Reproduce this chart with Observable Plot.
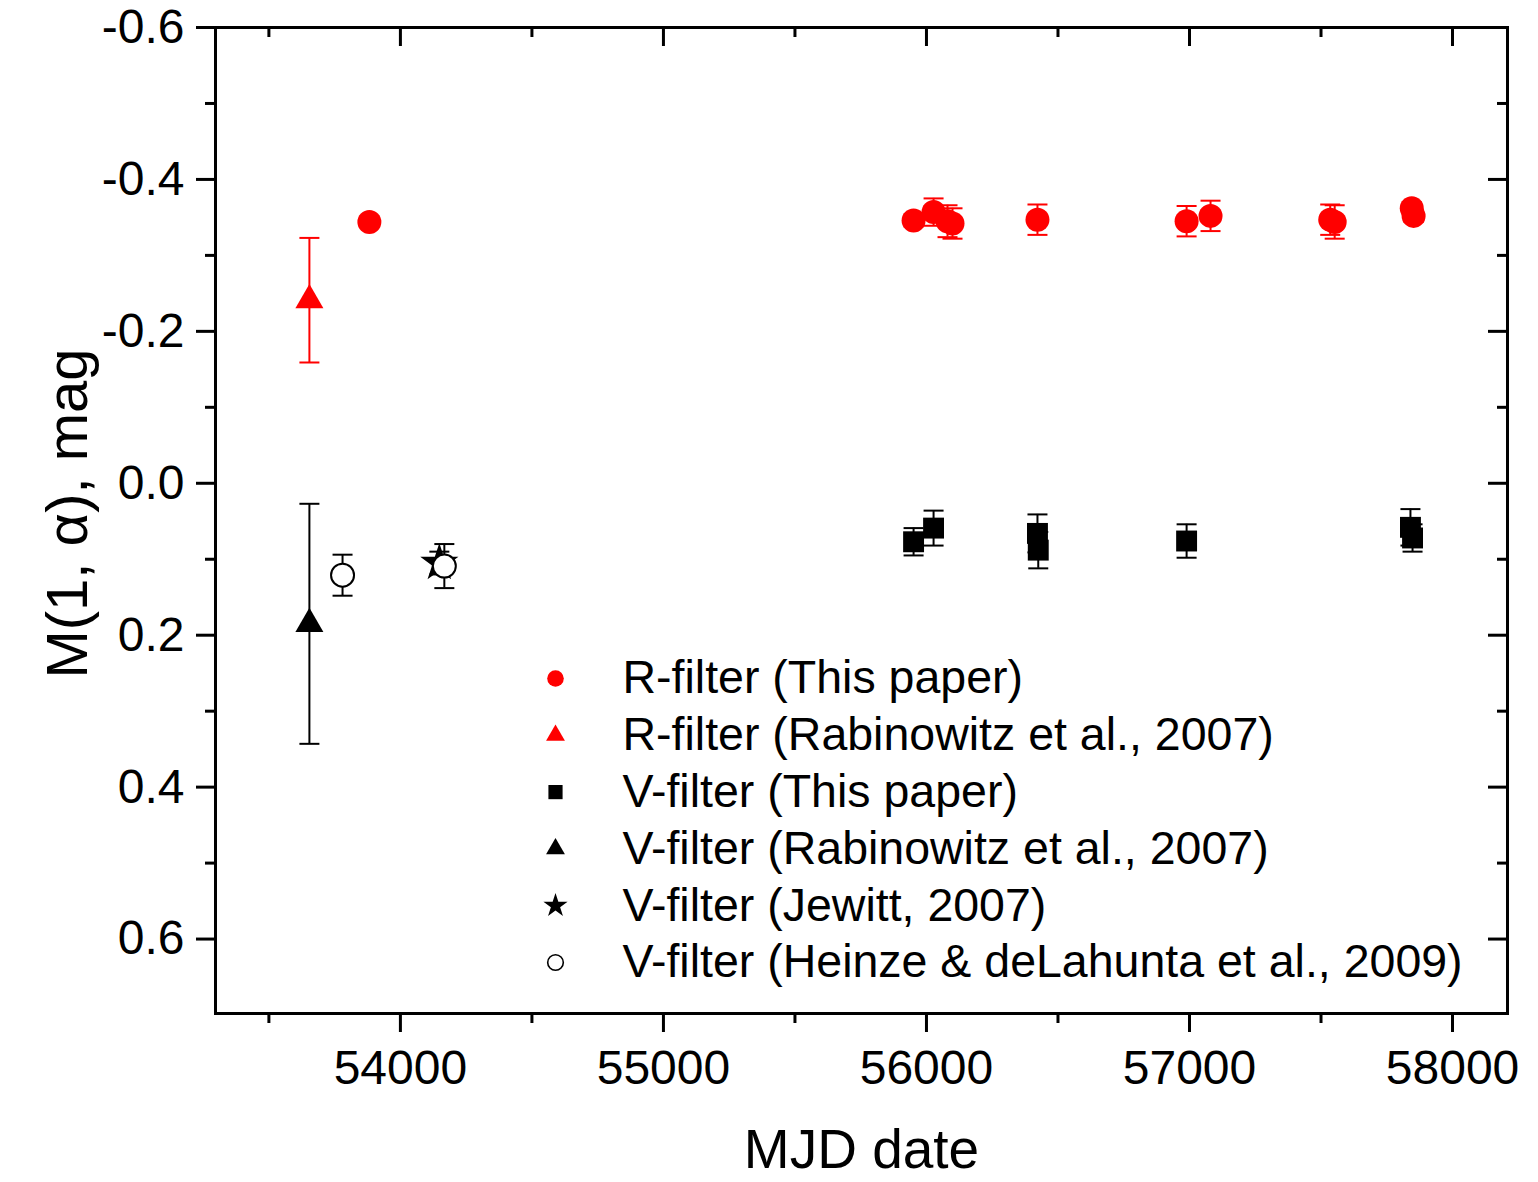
<!DOCTYPE html>
<html><head><meta charset="utf-8">
<script src="https://cdn.jsdelivr.net/npm/d3@7"></script>
<script src="https://cdn.jsdelivr.net/npm/@observablehq/plot@0.6"></script>
<style>body{margin:0;background:#fff} svg{display:block}</style>
</head><body><div id="chart"></div>
<script>
// ---- Data ----
const rThisMJD = [53882, 55951, 56027, 56080, 56099, 56422, 56989, 57080, 57535, 57552, 57845, 57852];
const rThisM   = [-0.344, -0.346, -0.357, -0.345, -0.342, -0.347, -0.345, -0.352, -0.347, -0.344, -0.362, -0.352];
const rThisErr = [0.005, 0.008, 0.018, 0.021, 0.020, 0.020, 0.020, 0.020, 0.020, 0.022, 0.008, 0.008];

const rRabMJD = [53654];
const rRabM   = [-0.241];
const rRabErr = [0.082];

const vThisMJD = [55951, 56027, 56422, 56425, 56989, 57840, 57848];
const vThisM   = [0.077, 0.059, 0.066, 0.088, 0.076, 0.058, 0.072];
const vThisErr = [0.018, 0.023, 0.025, 0.024, 0.022, 0.024, 0.018];

const vRabMJD = [53654];
const vRabM   = [0.185];
const vRabErr = [0.158];

const vJewMJD = [54148];
const vJewM   = [0.105];
const vJewErr = [0.015];

const vHeiMJD = [53780, 54167];
const vHeiM   = [0.121, 0.109];
const vHeiErr = [0.027, 0.029];

const xMajorTicks = [54000, 55000, 56000, 57000, 58000];
const xMinorTicks = [53500, 54500, 55500, 56500, 57500];
const yMajorTicks = [-0.6, -0.4, -0.2, 0.0, 0.2, 0.4, 0.6];
const yMinorTicks = [-0.5, -0.3, -0.1, 0.1, 0.3, 0.5];

const legendLabels = [
  "R-filter (This paper)",
  "R-filter (Rabinowitz et al., 2007)",
  "V-filter (This paper)",
  "V-filter (Rabinowitz et al., 2007)",
  "V-filter (Jewitt, 2007)",
  "V-filter (Heinze & deLahunta et al., 2009)"
];
const xLabel = "MJD date";
const yLabel = "M(1, α), mag";

// ---- Layout / styles ----
const W = 1538, H = 1182, mL = 215, mR = 31, mT = 27, mB = 169;
const pw = W - mL - mR, ph = H - mT - mB;
const AX = 3;

const rows = (mjd, m, err) => mjd.map((x, i) => ({x, m: m[i], e: err[i]}));
const series = [
  {rows: rows(rThisMJD, rThisM, rThisErr), color: "#ff0000", symbol: "circle", fill: "#ff0000", stroke: "none", r: 12, lr: 8.3},
  {rows: rows(rRabMJD, rRabM, rRabErr), color: "#ff0000", symbol: "triangle", fill: "#ff0000", stroke: "none", r: 10.4, lr: 7},
  {rows: rows(vThisMJD, vThisM, vThisErr), color: "#000", symbol: "square", fill: "#000", stroke: "none", r: 11.8, lr: 8},
  {rows: rows(vRabMJD, vRabM, vRabErr), color: "#000", symbol: "triangle", fill: "#000", stroke: "none", r: 10.4, lr: 7},
  {rows: rows(vJewMJD, vJewM, vJewErr), color: "#000", symbol: "star", fill: "#000", stroke: "none", r: 12, lr: 7.6},
  {rows: rows(vHeiMJD, vHeiM, vHeiErr), color: "#000", symbol: "circle", fill: "#fff", stroke: "#000", r: 11.5, lr: 7.8}
];

const capSymbol = {draw(ctx, size) { const w = Math.sqrt(size / Math.PI); ctx.moveTo(-w, 0); ctx.lineTo(w, 0); }};

const marks = [];
// error bars
for (const s of series) {
  marks.push(Plot.ruleX(s.rows, {x: "x", y1: d => d.m - d.e, y2: d => d.m + d.e, stroke: s.color, strokeWidth: 2}));
  const caps = s.rows.flatMap(d => [{x: d.x, y: d.m - d.e}, {x: d.x, y: d.m + d.e}]);
  marks.push(Plot.dot(caps, {x: "x", y: "y", symbol: capSymbol, r: 10, fill: "none", stroke: s.color, strokeWidth: 2}));
}
// markers
for (const s of series) {
  marks.push(Plot.dot(s.rows, {x: "x", y: "m", symbol: s.symbol, r: s.r, fill: s.fill, stroke: s.stroke, strokeWidth: 2}));
}
// legend
series.forEach((s, i) => {
  const dy = 651 + i * 56.8;
  marks.push(Plot.dot([legendLabels[i]], {frameAnchor: "top-left", dx: 340, dy, symbol: s.symbol, r: s.lr, fill: s.fill, stroke: s.stroke, strokeWidth: 1.6}));
  marks.push(Plot.text([legendLabels[i]], {frameAnchor: "top-left", dx: 407, dy, text: d => d, textAnchor: "start", lineAnchor: "middle", fontSize: 46.5, fill: "black"}));
});

// axes & ticks
marks.push(
  Plot.frame({stroke: "black", strokeWidth: AX}),
  Plot.axisX({ticks: xMajorTicks, tickSize: 19, tickPadding: 17, tickFormat: d => String(d), fontSize: 48, strokeWidth: AX, label: null}),
  Plot.axisY({ticks: yMajorTicks, tickSize: 19, tickPadding: 12, tickFormat: d => d.toFixed(1), fontSize: 48, strokeWidth: AX, label: null}),
  // bottom minor (outward)
  Plot.ruleX(xMinorTicks, {x: d => d, insetTop: ph, insetBottom: -10, strokeWidth: AX}),
  // left minor (outward)
  Plot.ruleY(yMinorTicks, {y: d => d, insetRight: pw, insetLeft: -10, strokeWidth: AX}),
  // top ticks (inward)
  Plot.ruleX(xMajorTicks, {x: d => d, insetBottom: ph - 19, strokeWidth: AX}),
  Plot.ruleX(xMinorTicks, {x: d => d, insetBottom: ph - 10, strokeWidth: AX}),
  // right ticks (inward)
  Plot.ruleY(yMajorTicks, {y: d => d, insetLeft: pw - 19, strokeWidth: AX}),
  Plot.ruleY(yMinorTicks, {y: d => d, insetLeft: pw - 10, strokeWidth: AX}),
  // axis titles
  Plot.text([xLabel], {frameAnchor: "bottom", dy: 137, text: d => d, textAnchor: "middle", lineAnchor: "middle", fontSize: 55, fill: "black"}),
  Plot.text([yLabel], {frameAnchor: "left", dx: -147, dy: -7, rotate: -90, text: d => d, textAnchor: "middle", lineAnchor: "middle", fontSize: 58, fill: "black"})
);

const chart = Plot.plot({
  width: W, height: H,
  marginLeft: mL, marginRight: mR, marginTop: mT, marginBottom: mB,
  x: {domain: [53297, 58209], axis: null},
  y: {domain: [-0.6, 0.698], reverse: true, axis: null},
  style: {fontFamily: "'Liberation Sans', Arial, Helvetica, sans-serif", background: "white", color: "black", overflow: "visible"},
  marks
});
document.getElementById("chart").appendChild(chart);
</script>
</body></html>
